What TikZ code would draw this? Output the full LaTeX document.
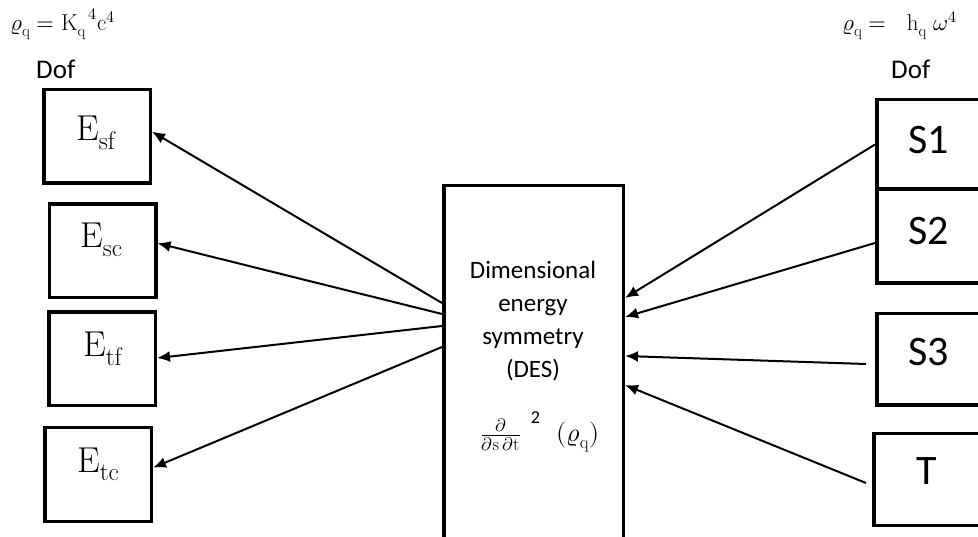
\documentclass[tikz,border=0pt]{standalone}
\usepackage{fontspec}
\usepackage{unicode-math}
\setmathfont{Latin Modern Math}
\setsansfont{Carlito}
\usetikzlibrary{arrows.meta,calc}
\begin{document}
\begin{tikzpicture}[x=1pt,y=-1pt,
  ebox/.style={draw,line width=3.5pt,minimum width=106.5pt,minimum height=93.5pt,inner sep=0pt},
  sbox/.style={draw,line width=3.5pt,minimum width=134pt,minimum height=#1,inner sep=0pt},
  desbox/.style={draw,line width=3.5pt,inner sep=0pt},
  arr/.style={line width=2pt,-{Latex[length=13pt,width=11pt]}},
  elab/.style={inner sep=0pt,anchor=base west,font=\fontsize{36}{40}\selectfont},
  slab/.style={inner sep=0pt,anchor=base,font=\sffamily\fontsize{42}{48}\selectfont},
  doflab/.style={inner sep=0pt,anchor=base west,font=\sffamily\fontsize{27}{30}\selectfont},
  formula/.style={inner sep=0pt,anchor=base west,font=\fontsize{23}{26}\selectfont}]
\useasboundingbox (0,0) rectangle (978,537);
\clip (0,0) rectangle (978,537);
\fill[white] (0,0) rectangle (978,537);

% top formulas and Dof labels
\node[formula] (fl) at (10,31) {$\varrho_{\mathrm{q}} = \mathrm{K_q}^{\,4}\mathrm{c}^4$};
\node[formula] (fr) at (842,31) {$\varrho_{\mathrm{q}} = \ \ \mathrm{h_q}\ \omega^4$};
\node[doflab] (dofl) at (36,79) {Dof};
\node[doflab] (dofr) at (891,79) {Dof};

% left boxes
\node[ebox] (esf) at (97,136.5) {};
\node[ebox] (esc) at (102.5,251) {};
\node[ebox] (etf) at (102,359) {};
\node[ebox] (etc) at (98,474.5) {};
\node[elab] (tsf) at (76,141) {$\mathrm{E_{sf}}$};
\node[elab] (tsc) at (80,248) {$\mathrm{E_{sc}}$};
\node[elab] (ttf) at (83,357) {$\mathrm{E_{tf}}$};
\node[elab] (ttc) at (77,472) {$\mathrm{E_{tc}}$};

% central box
\node[desbox,minimum width=179.5pt,minimum height=420pt] (des) at (533.5,395.75) {};
\node[inner sep=0pt,anchor=north,align=center,font=\sffamily\fontsize{25}{33}\selectfont] (dtext) at (533,261)
  {Dimensional\\energy\\symmetry\\(DES)};
\node[inner sep=0pt,anchor=base,font=\fontsize{26}{30}\selectfont] (dform) at (540,442)
  {$\frac{\partial}{\partial\mathrm{s}\,\partial\mathrm{t}}^{\;\;\mathsf{2}}\ \ (\varrho_{\mathrm{q}})$};

% right boxes
\node[sbox=89.5pt] (s1) at (943.75,144.5) {};
\node[sbox=93.5pt] (s2) at (943.75,236.5) {};
\node[sbox=91.5pt] (s3) at (943.75,359.5) {};
\node[sbox=91.5pt] (t) at (940.75,479.5) {};
\node[slab] (ts1) at (929,154) {S1};
\node[slab] (ts2) at (929,245) {S2};
\node[slab] (ts3) at (929,366) {S3};
\node[slab] (tt) at (927,484) {T};

% connectors to the left
\draw[arr] ($(des.north west)+(0,119)$) -- ($(esf.north east)!0.45!(esf.south east)$);
\draw[arr] ($(des.north west)+(0,130)$) -- ($(esc.north east)!0.42!(esc.south east)$);
\draw[arr] ($(des.north west)+(0,142)$) -- ($(etf.north east)!0.49!(etf.south east)$);
\draw[arr] ($(des.north west)+(0,163)$) -- ($(etc.north east)!0.43!(etc.south east)$);

% connectors from the right
\draw[arr] (s1.west) -- ($(des.north east)+(0,114)$);
\draw[arr] ($(s2.west)+(0,6.5)$) -- ($(des.north east)+(0,133)$);
\draw[arr] ($(s3.west)+(-9,4.5)$) -- ($(des.north east)+(0,172)$);
\draw[arr] ($(t.west)+(-6,3.5)$) -- ($(des.north east)+(0,201)$);
\end{tikzpicture}
\end{document}
